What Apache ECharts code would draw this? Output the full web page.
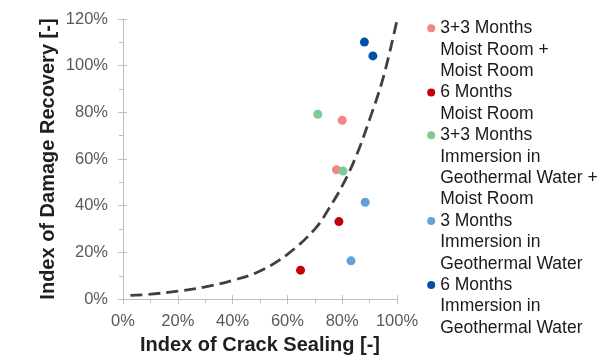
<!DOCTYPE html>
<html>
<head>
<meta charset="utf-8">
<script src="https://cdn.jsdelivr.net/npm/echarts@6/dist/echarts.min.js"></script>
<style>
  html, body { margin: 0; padding: 0; background: #fff; }
  #chart { width: 598px; height: 360px; }
</style>
</head>
<body>
<div id="chart"></div>
<script>
// Series names (line breaks as laid out in the legend)
const seriesNames = [
  '3+3 Months\nMoist Room +\nMoist Room',
  '6 Months\nMoist Room',
  '3+3 Months\nImmersion in\nGeothermal Water +\nMoist Room',
  '3 Months\nImmersion in\nGeothermal Water',
  '6 Months\nImmersion in\nGeothermal Water'
];
const seriesColors = ['#F08686', '#C5000B', '#7DCB90', '#62A2DA', '#0050A6'];

// [crack sealing index, damage recovery index]
const moist33 = [[0.800, 0.766], [0.779, 0.554]];
const moist6 = [[0.788, 0.332], [0.648, 0.124]];
const geoMoist33 = [[0.711, 0.792], [0.803, 0.549]];
const geo3 = [[0.884, 0.415], [0.832, 0.164]];
const geo6 = [[0.881, 1.101], [0.912, 1.042]];
const seriesData = [moist33, moist6, geoMoist33, geo3, geo6];

// Trend curve
const trendX = [0.027, 0.10, 0.20, 0.30, 0.40, 0.50, 0.60, 0.70, 0.75, 0.80, 0.85, 0.90, 0.95, 1.00];
const trendY = [0.016, 0.021, 0.034, 0.052, 0.080, 0.120, 0.192, 0.300, 0.385, 0.485, 0.610, 0.770, 0.950, 1.195];

// Axis ticks
const xTicks = [0, 0.2, 0.4, 0.6, 0.8, 1.0];
const yTicks = [0, 0.2, 0.4, 0.6, 0.8, 1.0, 1.2];

const FONT = "'Liberation Sans', Arial, sans-serif";
const AXIS_GRAY = '#BFBFBF';
const LINE_H = 21.4;
const LEGEND_FIRST_Y = 28.3;

const pct = v => Math.round(v * 100) + '%';

function baseAxis(ticks) {
  return {
    type: 'value',
    min: ticks[0],
    max: ticks[ticks.length - 1],
    interval: ticks[1] - ticks[0],
    splitLine: { show: false }
  };
}

const xMain = Object.assign(baseAxis(xTicks), {
  position: 'bottom',
  name: 'Index of Crack Sealing [-]',
  nameLocation: 'middle',
  nameGap: 32,
  nameTextStyle: { fontFamily: FONT, fontSize: 20, fontWeight: 'bold', color: '#1F1F1F' },
  axisLine: { show: true, lineStyle: { color: AXIS_GRAY, width: 1 } },
  axisTick: { show: true, inside: false, length: 5, lineStyle: { color: AXIS_GRAY } },
  minorTick: { show: true, splitNumber: 2, length: 4, lineStyle: { color: AXIS_GRAY } },
  axisLabel: { formatter: pct, fontFamily: FONT, fontSize: 16.5, color: '#595959', margin: 14 }
});
const xInner = Object.assign(baseAxis(xTicks), {
  position: 'bottom',
  axisLine: { show: false },
  axisTick: { show: true, inside: true, length: 4, lineStyle: { color: AXIS_GRAY } },
  axisLabel: { show: false }
});
const yMain = Object.assign(baseAxis(yTicks), {
  position: 'left',
  name: 'Index of Damage Recovery [-]',
  nameLocation: 'middle',
  nameGap: 65,
  nameTextStyle: { fontFamily: FONT, fontSize: 20, fontWeight: 'bold', color: '#1F1F1F' },
  axisLine: { show: true, lineStyle: { color: AXIS_GRAY, width: 1 } },
  axisTick: { show: true, inside: false, length: 5, lineStyle: { color: AXIS_GRAY } },
  minorTick: { show: true, splitNumber: 2, length: 4, lineStyle: { color: AXIS_GRAY } },
  axisLabel: { formatter: pct, fontFamily: FONT, fontSize: 16.5, color: '#595959', margin: 15 }
});
const yInner = Object.assign(baseAxis(yTicks), {
  position: 'left',
  axisLine: { show: false },
  axisTick: { show: true, inside: true, length: 4, lineStyle: { color: AXIS_GRAY } },
  axisLabel: { show: false }
});

// One legend block per series. Legend text is centred on its icon, so
// blank lines are put in front of each name to bring the icon level
// with the first text line.
const legends = [];
let lineOffset = 0;
seriesNames.forEach((name) => {
  const n = name.split('\n').length;
  const firstY = LEGEND_FIRST_Y + lineOffset * LINE_H;
  legends.push({
    data: [name],
    orient: 'vertical',
    left: 427.2,
    top: firstY - (2 * n - 1) * LINE_H / 2,
    padding: 0,
    itemWidth: 8,
    itemHeight: 8,
    icon: 'circle',
    selectedMode: false,
    formatter: (label) => '\n'.repeat(n - 1) + label,
    textStyle: {
      fontFamily: FONT,
      fontSize: 17.5,
      color: '#1A1A1A',
      lineHeight: LINE_H
    }
  });
  lineOffset += n;
});

const series = seriesNames.map((name, i) => ({
  name: name,
  type: 'scatter',
  xAxisIndex: 0,
  yAxisIndex: 0,
  symbol: 'circle',
  symbolSize: 9,
  itemStyle: { color: seriesColors[i], opacity: 1 },
  data: seriesData[i],
  z: 3
}));

series.push({
  name: 'trend',
  type: 'line',
  xAxisIndex: 0,
  yAxisIndex: 0,
  smooth: 0.4,
  showSymbol: false,
  symbol: 'none',
  lineStyle: { color: '#404040', width: 2.8, type: [12, 6] },
  data: trendX.map((x, i) => [x, trendY[i]]),
  z: 2,
  silent: true
});

const chart = echarts.init(document.getElementById('chart'), null, { renderer: 'canvas' });
chart.setOption({
  backgroundColor: '#ffffff',
  animation: false,
  grid: { left: 123, right: 201, top: 19, bottom: 57, containLabel: false },
  xAxis: [xMain, xInner],
  yAxis: [yMain, yInner],
  legend: legends,
  series: series
});
</script>
</body>
</html>
